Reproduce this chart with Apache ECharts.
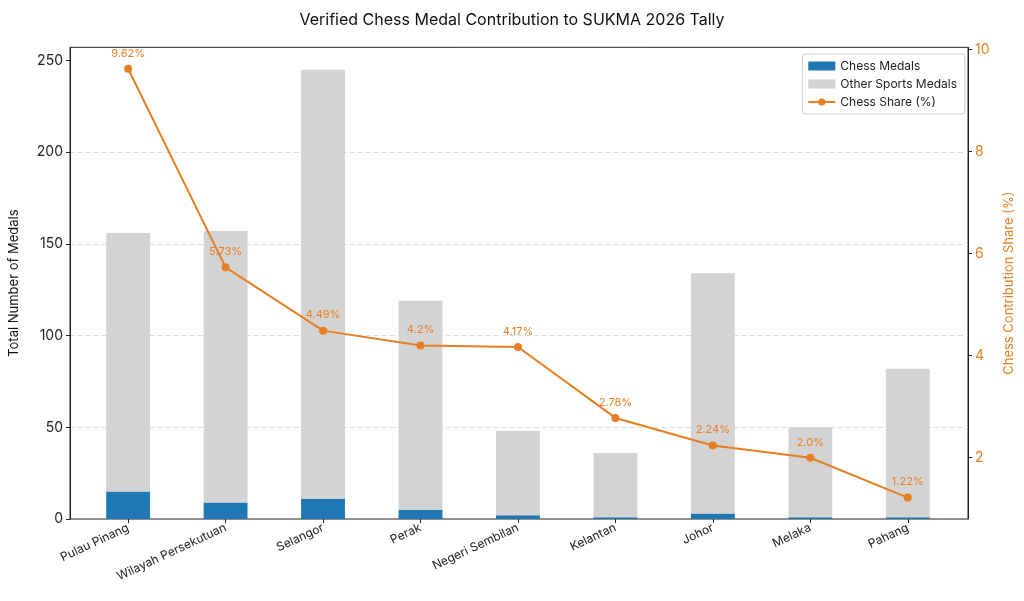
<!DOCTYPE html>
<html>
<head>
<meta charset="utf-8">
<title>Chess Medal Contribution</title>
<script src="https://cdn.jsdelivr.net/npm/echarts@6/dist/echarts.min.js"></script>
<style>
  html, body { margin: 0; padding: 0; background: #fff; }
  #chart { width: 1024px; height: 601px; }
</style>
</head>
<body>
<div id="chart"></div>
<script>
// states, in order of chess share
var states = ['Pulau Pinang', 'Wilayah Persekutuan', 'Selangor', 'Perak', 'Negeri Sembilan',
              'Kelantan', 'Johor', 'Melaka', 'Pahang'];
var chessMedals = [15, 9, 11, 5, 2, 1, 3, 1, 1];
var otherMedals = [141, 148, 234, 114, 46, 35, 131, 49, 81];
var chessShare = [9.62, 5.73, 4.49, 4.2, 4.17, 2.78, 2.24, 2.0, 1.22];
var leftTicks = [0, 50, 100, 150, 200, 250];
var rightTicks = [2, 4, 6, 8, 10];

var ORANGE = '#e67e22';
var FONT = 'Inter, "Noto Sans", sans-serif';

// plot frame
var frameTop = 47.3, frameBottom = 82, frameLeft = 65, frameRight = 52.3;

var option = {
    animation: false,
    textStyle: { fontFamily: FONT },
    title: {
        text: 'Verified Chess Medal Contribution to SUKMA 2026 Tally',
        left: 'center',
        top: 7,
        textStyle: { fontSize: 16, fontWeight: 'normal', color: '#111', fontFamily: FONT }
    },
    legend: {
        orient: 'vertical',
        right: 59,
        top: 54,
        backgroundColor: '#fff',
        borderColor: '#d0d0d0',
        borderWidth: 1,
        borderRadius: 3,
        padding: [6, 8, 6, 5],
        itemGap: 6,
        itemWidth: 27,
        itemHeight: 9,
        textStyle: { fontSize: 12, color: '#222' },
        data: [
            { name: 'Chess Medals', icon: 'rect' },
            { name: 'Other Sports Medals', icon: 'rect' },
            { name: 'Chess Share (%)' }
        ]
    },
    grid: [
        // bars and line live here (band width matches the reference spacing)
        { left: 79.4, right: 67.5, top: frameTop, bottom: frameBottom },
        // the visible frame, gridlines and y axes
        { left: frameLeft, right: frameRight, top: frameTop, bottom: frameBottom,
          show: true, borderColor: '#222', borderWidth: 1, backgroundColor: 'transparent' }
    ],
    xAxis: [
        {
            type: 'category',
            gridIndex: 0,
            data: states,
            axisLine: { show: false },
            axisTick: { show: true, alignWithLabel: true, length: 4, lineStyle: { color: '#222' } },
            axisLabel: { rotate: 25, fontSize: 12, color: '#222', margin: 8, interval: 0 }
        },
        { type: 'value', gridIndex: 1, show: false, min: 0, max: 1 }
    ],
    yAxis: [
        { type: 'value', gridIndex: 0, show: false, min: 0, max: 257.25 },
        { type: 'value', gridIndex: 0, show: false, min: 0.8, max: 10.04 },
        {
            type: 'value',
            gridIndex: 1,
            position: 'left',
            min: 0,
            max: 257.25,
            interval: 50,
            name: 'Total Number of Medals',
            nameLocation: 'middle',
            nameGap: 49,
            nameTextStyle: { fontSize: 13, color: '#111' },
            axisLine: { show: true, lineStyle: { color: '#222', width: 1 } },
            axisTick: { show: true, length: 4, lineStyle: { color: '#222' }, customValues: leftTicks },
            axisLabel: { fontSize: 14, color: '#222', margin: 7, customValues: leftTicks },
            splitLine: { show: true, showMinLine: false, showMaxLine: false,
                lineStyle: { color: '#d6d6d6', type: [5, 3], width: 0.8 } }
        },
        {
            type: 'value',
            gridIndex: 1,
            position: 'right',
            min: 0.8,
            max: 10.04,
            name: 'Chess Contribution Share (%)',
            nameLocation: 'middle',
            nameGap: 35,
            nameRotate: 90,
            nameTextStyle: { fontSize: 13, color: ORANGE },
            axisLine: { show: true, lineStyle: { color: '#222', width: 1 } },
            axisTick: { show: true, length: 4, lineStyle: { color: '#222' }, customValues: rightTicks },
            axisLabel: { fontSize: 14, color: ORANGE, margin: 7, customValues: rightTicks },
            splitLine: { show: false }
        }
    ],
    series: [
        {
            name: 'Chess Medals',
            type: 'bar',
            stack: 'medals',
            xAxisIndex: 0,
            yAxisIndex: 0,
            barWidth: '45%',
            itemStyle: { color: '#1f77b4' },
            data: chessMedals
        },
        {
            name: 'Other Sports Medals',
            type: 'bar',
            stack: 'medals',
            xAxisIndex: 0,
            yAxisIndex: 0,
            barWidth: '45%',
            itemStyle: { color: '#d3d3d3' },
            data: otherMedals
        },
        {
            name: 'Chess Share (%)',
            type: 'line',
            xAxisIndex: 0,
            yAxisIndex: 1,
            z: 5,
            symbol: 'circle',
            symbolSize: 8,
            lineStyle: { color: ORANGE, width: 2 },
            itemStyle: { color: ORANGE },
            label: {
                show: true,
                position: 'top',
                distance: 6,
                fontSize: 11,
                color: ORANGE,
                formatter: function (p) {
                    var v = p.value;
                    return (Number.isInteger(v) ? v.toFixed(1) : String(v)) + '%';
                }
            },
            data: chessShare
        }
    ]
};

var chart = echarts.init(document.getElementById('chart'));
chart.setOption(option);
</script>
</body>
</html>
